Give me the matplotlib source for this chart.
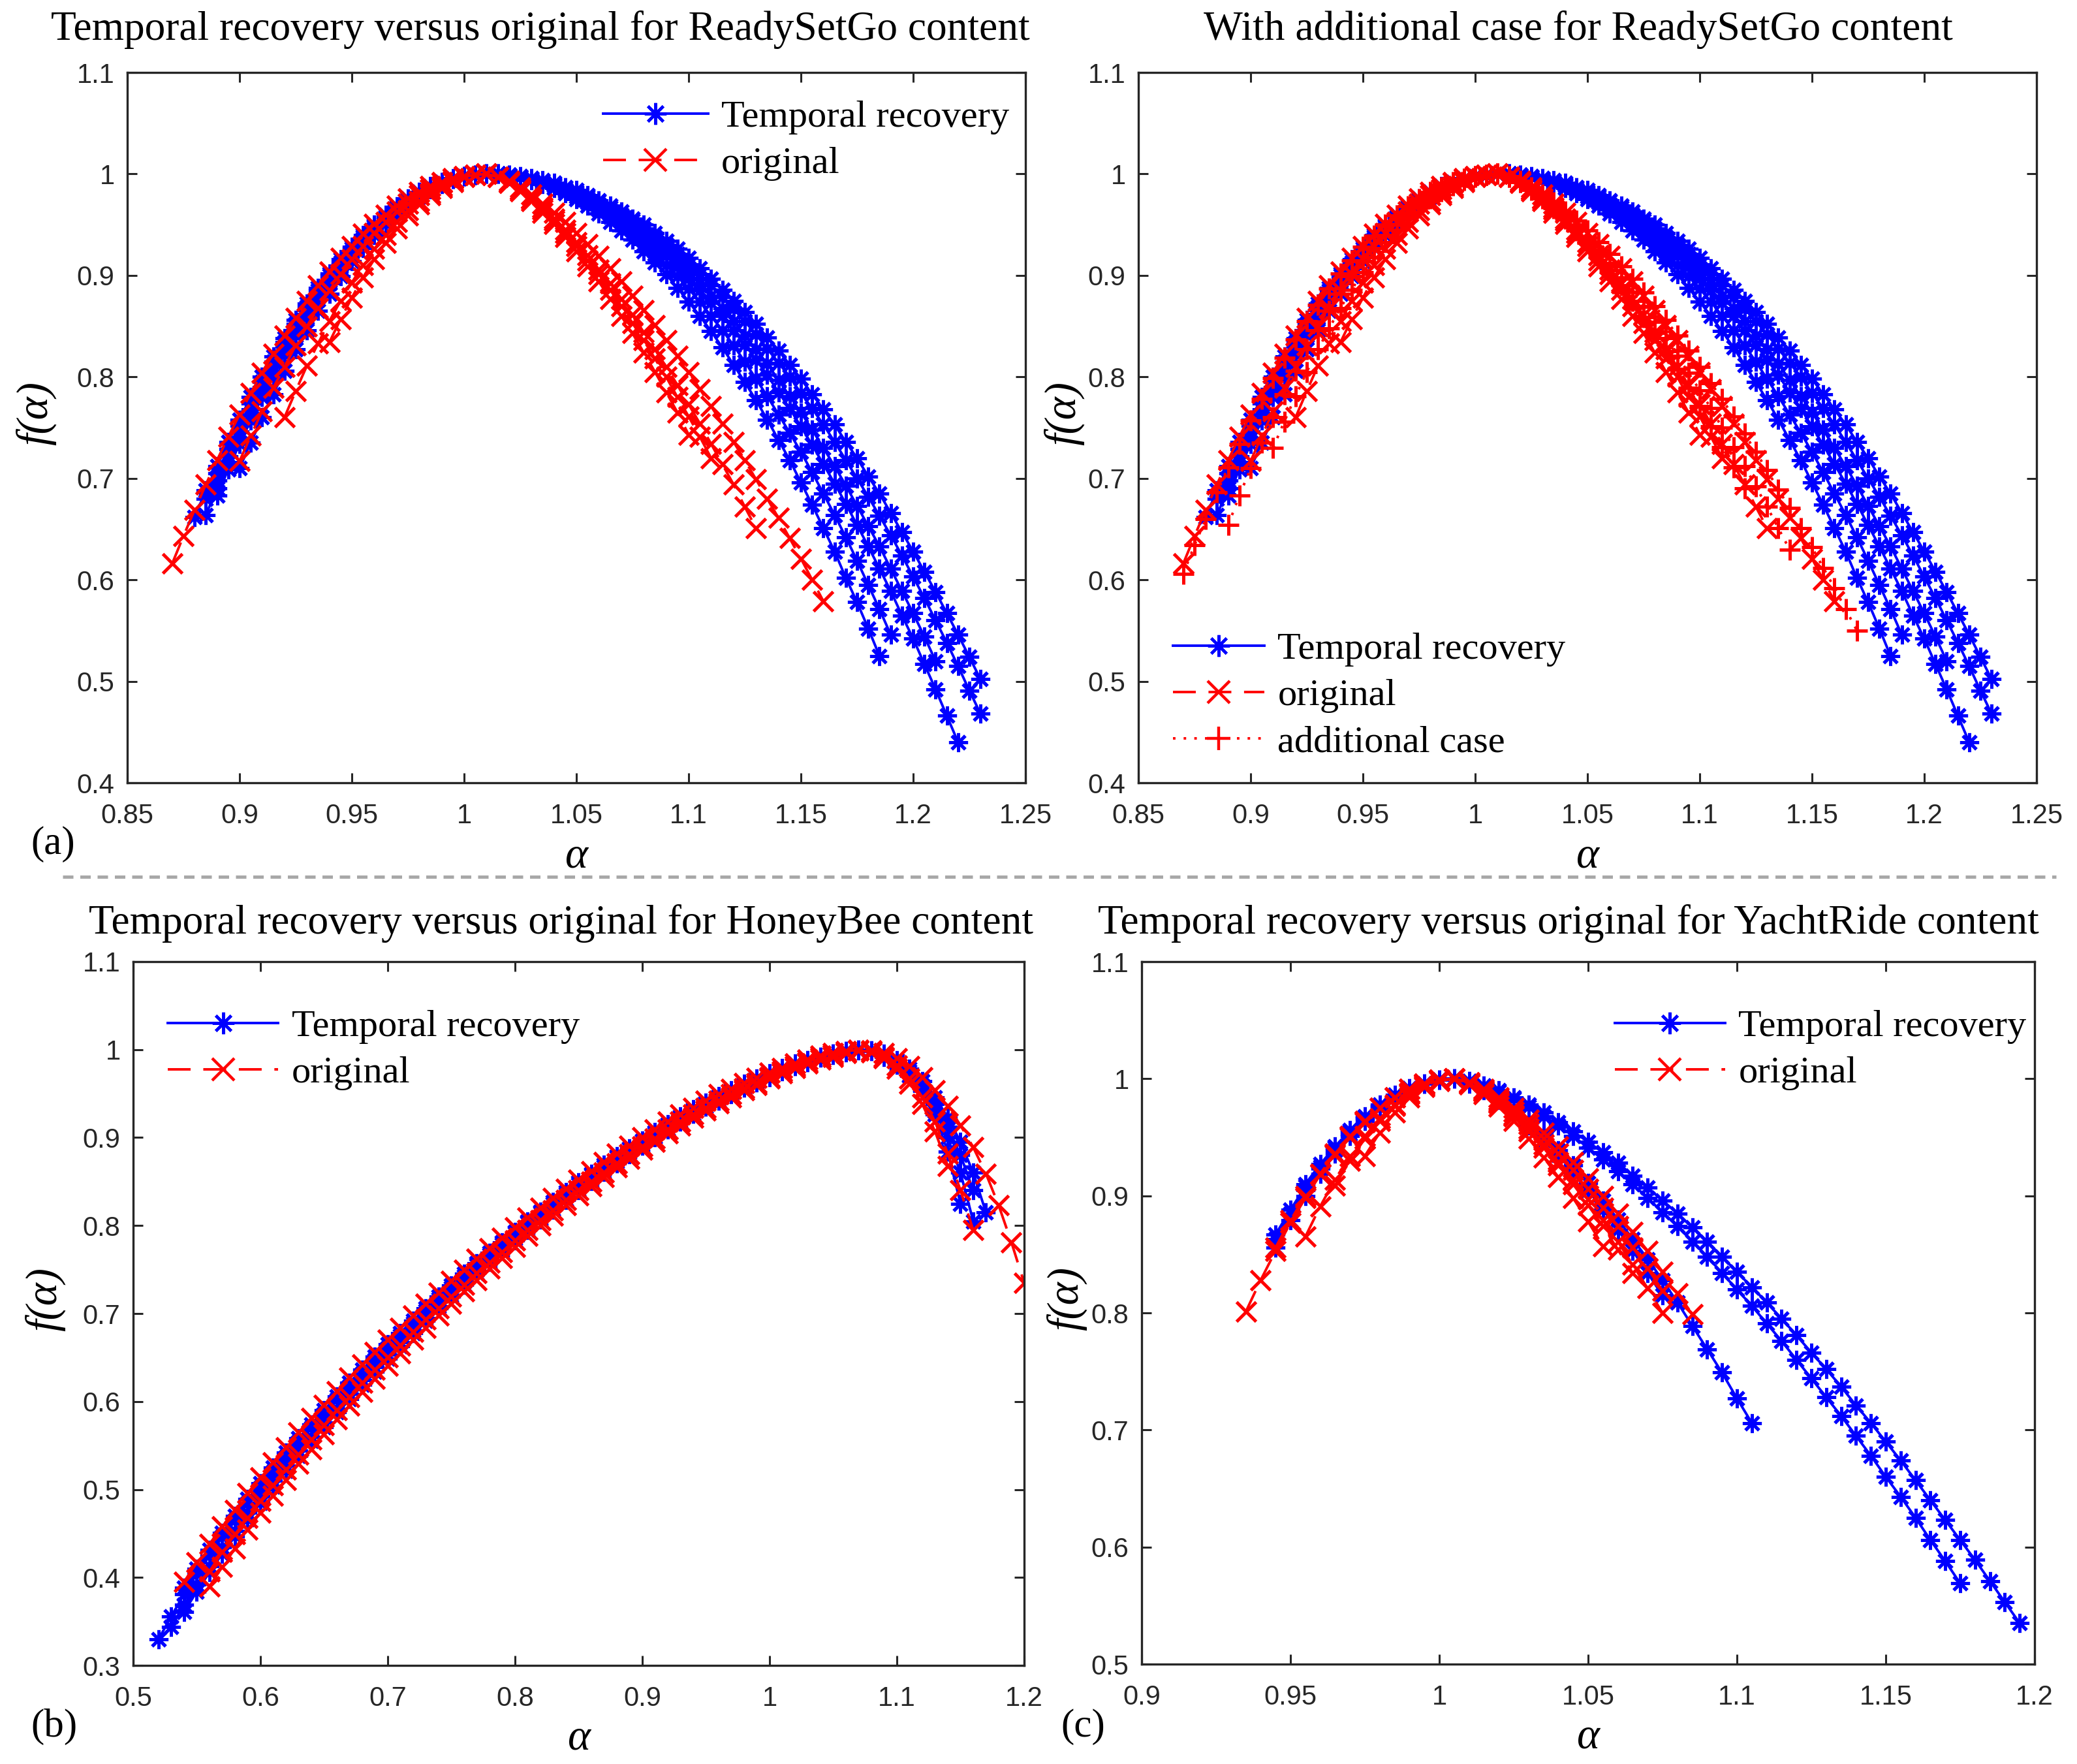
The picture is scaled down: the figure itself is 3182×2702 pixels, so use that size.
import matplotlib
matplotlib.use("Agg")
import matplotlib.pyplot as plt
import numpy as np
from matplotlib.lines import Line2D
from matplotlib.ticker import FuncFormatter

# ---------------- data ----------------
# each curve: (first alpha, f(alpha) values on the panel's alpha grid from that point on)

# (a) and top right panel : ReadySetGo
alpha_rsg = [0.870, 0.875, 0.880, 0.885, 0.890, 0.895, 0.900, 0.905, 0.910, 0.915, 0.920, 0.925,
             0.930, 0.935, 0.940, 0.945, 0.950, 0.955, 0.960, 0.965, 0.970, 0.975, 0.980, 0.985,
             0.990, 0.995, 1.000, 1.005, 1.010, 1.015, 1.020, 1.025, 1.030, 1.035, 1.040, 1.045,
             1.050, 1.055, 1.060, 1.065, 1.070, 1.075, 1.080, 1.085, 1.090, 1.095, 1.100, 1.105,
             1.110, 1.115, 1.120, 1.125, 1.130, 1.135, 1.140, 1.145, 1.150, 1.155, 1.160, 1.165,
             1.170, 1.175, 1.180, 1.185, 1.190, 1.195, 1.200, 1.205, 1.210, 1.215, 1.220, 1.225,
             1.230]

rsg_temporal = [
    (0.880, [0.662, 0.688, 0.712, 0.736, 0.758, 0.780, 0.800, 0.820, 0.838, 0.856, 0.872, 0.888,
             0.902, 0.916, 0.928, 0.940, 0.950, 0.960, 0.968, 0.976, 0.982, 0.988, 0.992, 0.996,
             0.998, 0.999, 1.000, 1.000, 0.999, 0.998, 0.996, 0.994, 0.991, 0.987, 0.984, 0.979,
             0.974, 0.969, 0.963, 0.956, 0.950, 0.942, 0.934, 0.926, 0.917, 0.907, 0.897, 0.886,
             0.875, 0.864, 0.852, 0.839, 0.826, 0.812, 0.798, 0.783, 0.768, 0.753, 0.736, 0.720,
             0.702, 0.685, 0.666, 0.647, 0.628, 0.608, 0.588, 0.567, 0.546, 0.524, 0.502]),
    (0.890, [0.698, 0.722, 0.746, 0.768, 0.790, 0.810, 0.830, 0.848, 0.866, 0.882, 0.897, 0.911,
             0.924, 0.936, 0.948, 0.957, 0.966, 0.974, 0.981, 0.987, 0.992, 0.995, 0.998, 0.999,
             1.000, 1.000, 0.999, 0.998, 0.996, 0.993, 0.990, 0.987, 0.982, 0.978, 0.973, 0.967,
             0.960, 0.954, 0.946, 0.938, 0.930, 0.921, 0.911, 0.901, 0.890, 0.879, 0.867, 0.855,
             0.842, 0.828, 0.814, 0.800, 0.784, 0.769, 0.753, 0.736, 0.718, 0.700, 0.682, 0.663,
             0.644, 0.624, 0.603, 0.582, 0.560, 0.538, 0.515, 0.491, 0.468]),
    (0.890, [0.683, 0.709, 0.734, 0.757, 0.780, 0.801, 0.822, 0.841, 0.859, 0.876, 0.892, 0.907,
             0.921, 0.933, 0.945, 0.955, 0.965, 0.973, 0.980, 0.986, 0.991, 0.995, 0.998, 0.999,
             1.000, 1.000, 0.999, 0.997, 0.995, 0.992, 0.989, 0.984, 0.980, 0.974, 0.968, 0.962,
             0.954, 0.946, 0.938, 0.929, 0.919, 0.908, 0.897, 0.885, 0.873, 0.860, 0.846, 0.832,
             0.817, 0.802, 0.785, 0.769, 0.751, 0.733, 0.714, 0.695, 0.675, 0.654, 0.633, 0.611,
             0.589, 0.565, 0.542, 0.517, 0.492, 0.466, 0.440]),
    (0.900, [0.710, 0.735, 0.760, 0.783, 0.806, 0.827, 0.846, 0.865, 0.882, 0.899, 0.914, 0.927,
             0.940, 0.951, 0.962, 0.971, 0.978, 0.985, 0.990, 0.995, 0.998, 0.999, 1.000, 1.000,
             0.999, 0.997, 0.994, 0.991, 0.987, 0.983, 0.978, 0.972, 0.965, 0.958, 0.950, 0.941,
             0.931, 0.921, 0.910, 0.899, 0.887, 0.874, 0.860, 0.846, 0.831, 0.815, 0.798, 0.781,
             0.763, 0.745, 0.726, 0.706, 0.685, 0.664, 0.642, 0.619, 0.595, 0.571, 0.546]),
    (0.885, [0.680, 0.705, 0.729, 0.752, 0.774, 0.795, 0.815, 0.834, 0.852, 0.869, 0.885, 0.900,
             0.913, 0.926, 0.938, 0.949, 0.958, 0.967, 0.975, 0.982, 0.987, 0.992, 0.995, 0.998,
             0.999, 1.000, 1.000, 0.998, 0.997, 0.994, 0.990, 0.986, 0.981, 0.975, 0.969, 0.961,
             0.953, 0.944, 0.935, 0.924, 0.913, 0.901, 0.888, 0.874, 0.860, 0.845, 0.829, 0.812,
             0.795, 0.777, 0.758, 0.738, 0.718, 0.696, 0.674, 0.651, 0.628, 0.602, 0.578, 0.552,
             0.525]),
    (0.885, [0.664, 0.690, 0.716, 0.740, 0.763, 0.785, 0.806, 0.826, 0.845, 0.862, 0.879, 0.895,
             0.909, 0.923, 0.935, 0.946, 0.956, 0.966, 0.974, 0.981, 0.987, 0.991, 0.995, 0.998,
             0.999, 1.000, 1.000, 0.999, 0.997, 0.995, 0.993, 0.989, 0.985, 0.981, 0.976, 0.970,
             0.964, 0.957, 0.949, 0.941, 0.933, 0.923, 0.913, 0.903, 0.892, 0.880, 0.868, 0.855,
             0.841, 0.827, 0.813, 0.797, 0.781, 0.765, 0.748, 0.730, 0.712, 0.693, 0.673, 0.653,
             0.633, 0.611, 0.589, 0.567, 0.544, 0.520]),
]

rsg_original = [
    (0.870, [0.616, 0.643, 0.669, 0.694, 0.718, 0.741, 0.763, 0.784, 0.804, 0.823, 0.841, 0.858,
             0.875, 0.890, 0.904, 0.917, 0.929, 0.941, 0.951, 0.960, 0.969, 0.976, 0.982, 0.988,
             0.992, 0.996, 0.998, 0.999, 1.000, 0.997, 0.993, 0.987, 0.980, 0.971, 0.962, 0.953,
             0.942, 0.931, 0.919, 0.907, 0.894, 0.880, 0.866, 0.851, 0.836, 0.821, 0.805, 0.788,
             0.771, 0.754, 0.736, 0.718, 0.699, 0.680, 0.661, 0.641, 0.621, 0.600, 0.579]),
    (0.900, [0.717, 0.742, 0.766, 0.789, 0.810, 0.831, 0.850, 0.868, 0.885, 0.901, 0.916, 0.929,
             0.942, 0.953, 0.963, 0.971, 0.979, 0.985, 0.991, 0.995, 0.998, 0.999, 1.000, 0.997,
             0.992, 0.985, 0.976, 0.967, 0.956, 0.945, 0.933, 0.920, 0.906, 0.892, 0.877, 0.861,
             0.844, 0.827, 0.810, 0.792, 0.773, 0.754, 0.734, 0.714, 0.694, 0.672, 0.651]),
    (0.920, [0.760, 0.786, 0.811, 0.833, 0.855, 0.875, 0.893, 0.910, 0.926, 0.940, 0.953, 0.964,
             0.973, 0.981, 0.988, 0.993, 0.997, 0.999, 1.000, 0.997, 0.991, 0.984, 0.975, 0.965,
             0.954, 0.942, 0.929, 0.915, 0.901, 0.886, 0.870, 0.853, 0.836, 0.818, 0.800, 0.780,
             0.761, 0.741, 0.720]),
    (0.940, [0.834, 0.857, 0.878, 0.898, 0.916, 0.932, 0.946, 0.959, 0.970, 0.979, 0.986, 0.992,
             0.997, 0.999, 1.000, 0.997, 0.991, 0.983, 0.973, 0.962, 0.951, 0.938, 0.924, 0.909,
             0.894, 0.877, 0.860, 0.843, 0.824, 0.805, 0.785, 0.765, 0.743]),
]

rsg_additional = [
    (0.870, [0.606, 0.634, 0.660, 0.686, 0.711, 0.734, 0.757, 0.778, 0.799, 0.819, 0.837, 0.855,
             0.871, 0.887, 0.902, 0.915, 0.928, 0.939, 0.950, 0.959, 0.968, 0.975, 0.982, 0.987,
             0.992, 0.995, 0.998, 0.999, 1.000, 0.998, 0.993, 0.987, 0.980, 0.972, 0.963, 0.954,
             0.944, 0.933, 0.921, 0.909, 0.897, 0.883, 0.870, 0.856, 0.841, 0.826, 0.810, 0.794,
             0.778, 0.761, 0.744, 0.726, 0.708, 0.689, 0.671, 0.651, 0.632, 0.612, 0.592, 0.571,
             0.550]),
    (0.890, [0.654, 0.683, 0.710, 0.735, 0.760, 0.783, 0.806, 0.827, 0.846, 0.865, 0.882, 0.899,
             0.914, 0.927, 0.940, 0.951, 0.962, 0.971, 0.978, 0.985, 0.990, 0.995, 0.998, 0.999,
             1.000, 0.997, 0.992, 0.985, 0.978, 0.969, 0.959, 0.948, 0.937, 0.925, 0.912, 0.898,
             0.884, 0.869, 0.854, 0.838, 0.821, 0.804, 0.787, 0.769, 0.750, 0.731, 0.712, 0.692,
             0.672, 0.651, 0.630]),
    (0.910, [0.730, 0.756, 0.781, 0.805, 0.827, 0.848, 0.868, 0.886, 0.903, 0.918, 0.933, 0.945,
             0.957, 0.967, 0.976, 0.983, 0.989, 0.994, 0.997, 0.999, 1.000, 0.997, 0.992, 0.984,
             0.976, 0.966, 0.956, 0.944, 0.932, 0.919, 0.905, 0.890, 0.875, 0.859, 0.843, 0.825,
             0.808, 0.789, 0.771, 0.751, 0.731, 0.711, 0.690]),
]

# (b) HoneyBee
alpha_hb = [0.52, 0.53, 0.54, 0.55, 0.56, 0.57, 0.58, 0.59, 0.60, 0.61, 0.62, 0.63, 0.64, 0.65,
            0.66, 0.67, 0.68, 0.69, 0.70, 0.71, 0.72, 0.73, 0.74, 0.75, 0.76, 0.77, 0.78, 0.79,
            0.80, 0.81, 0.82, 0.83, 0.84, 0.85, 0.86, 0.87, 0.88, 0.89, 0.90, 0.91, 0.92, 0.93,
            0.94, 0.95, 0.96, 0.97, 0.98, 0.99, 1.00, 1.01, 1.02, 1.03, 1.04, 1.05, 1.06, 1.07,
            1.08, 1.09, 1.10, 1.11, 1.12, 1.13, 1.14, 1.15, 1.16, 1.17, 1.18, 1.19, 1.20]

hb_temporal = [
    (0.52, [0.330, 0.356, 0.381, 0.404, 0.425, 0.446, 0.465, 0.484, 0.502, 0.520, 0.537, 0.554,
            0.570, 0.586, 0.602, 0.617, 0.632, 0.647, 0.661, 0.675, 0.689, 0.703, 0.716, 0.729,
            0.742, 0.755, 0.767, 0.779, 0.791, 0.803, 0.814, 0.825, 0.836, 0.847, 0.857, 0.867,
            0.877, 0.887, 0.896, 0.905, 0.914, 0.923, 0.931, 0.939, 0.946, 0.953, 0.960, 0.966,
            0.972, 0.978, 0.983, 0.988, 0.992, 0.995, 0.998, 1.000, 0.999, 0.995, 0.988, 0.978,
            0.964, 0.946, 0.923, 0.895, 0.860, 0.815]),
    (0.54, [0.361, 0.384, 0.406, 0.427, 0.447, 0.466, 0.485, 0.503, 0.521, 0.538, 0.555, 0.571,
            0.588, 0.603, 0.619, 0.634, 0.649, 0.663, 0.678, 0.692, 0.706, 0.719, 0.733, 0.746,
            0.759, 0.771, 0.783, 0.795, 0.807, 0.818, 0.829, 0.840, 0.851, 0.861, 0.871, 0.881,
            0.891, 0.900, 0.909, 0.918, 0.927, 0.935, 0.942, 0.949, 0.957, 0.963, 0.969, 0.975,
            0.981, 0.986, 0.991, 0.994, 0.997, 0.999, 0.998, 0.993, 0.984, 0.971, 0.954, 0.926,
            0.884, 0.825]),
    (0.54, [0.388, 0.410, 0.431, 0.451, 0.470, 0.489, 0.507, 0.525, 0.542, 0.558, 0.574, 0.590,
            0.606, 0.621, 0.636, 0.651, 0.665, 0.678, 0.692, 0.706, 0.719, 0.732, 0.745, 0.757,
            0.769, 0.781, 0.793, 0.805, 0.816, 0.827, 0.838, 0.849, 0.859, 0.869, 0.879, 0.888,
            0.897, 0.906, 0.915, 0.924, 0.932, 0.940, 0.947, 0.954, 0.961, 0.967, 0.973, 0.979,
            0.984, 0.988, 0.992, 0.995, 0.998, 1.000, 0.999, 0.994, 0.986, 0.975, 0.959, 0.938,
            0.912, 0.880, 0.840]),
    (0.53, [0.344, 0.369, 0.392, 0.413, 0.434, 0.453, 0.474, 0.492, 0.510, 0.527, 0.544, 0.560,
            0.576, 0.592, 0.609, 0.624, 0.639, 0.653, 0.667, 0.681, 0.695, 0.708, 0.721, 0.736,
            0.749, 0.761, 0.773, 0.785, 0.797, 0.808, 0.819, 0.830, 0.841, 0.853, 0.863, 0.873,
            0.883, 0.892, 0.901, 0.910, 0.919, 0.927, 0.935, 0.944, 0.951, 0.958, 0.964, 0.970,
            0.976, 0.981, 0.986, 0.992, 0.995, 0.998, 1.000, 0.998, 0.992, 0.983, 0.970, 0.953,
            0.930, 0.900, 0.860, 0.805]),
]

hb_original = [
    (0.54, [0.395, 0.417, 0.438, 0.458, 0.477, 0.496, 0.514, 0.531, 0.548, 0.565, 0.581, 0.596,
            0.612, 0.627, 0.642, 0.656, 0.670, 0.684, 0.698, 0.711, 0.724, 0.737, 0.750, 0.762,
            0.774, 0.786, 0.798, 0.809, 0.820, 0.831, 0.842, 0.852, 0.862, 0.872, 0.882, 0.891,
            0.900, 0.909, 0.918, 0.926, 0.934, 0.942, 0.949, 0.955, 0.962, 0.968, 0.974, 0.979,
            0.984, 0.989, 0.993, 0.996, 0.998, 1.000, 0.999, 0.996, 0.990, 0.981, 0.969, 0.954,
            0.936, 0.914, 0.889, 0.859, 0.823, 0.781, 0.735]),
    (0.56, [0.390, 0.412, 0.433, 0.454, 0.474, 0.493, 0.511, 0.529, 0.546, 0.563, 0.580, 0.595,
            0.611, 0.626, 0.641, 0.655, 0.670, 0.684, 0.698, 0.711, 0.725, 0.738, 0.751, 0.763,
            0.776, 0.788, 0.800, 0.811, 0.823, 0.834, 0.845, 0.855, 0.866, 0.876, 0.886, 0.895,
            0.905, 0.914, 0.923, 0.931, 0.939, 0.946, 0.954, 0.960, 0.967, 0.973, 0.979, 0.984,
            0.989, 0.992, 0.996, 0.999, 0.998, 0.992, 0.982, 0.967, 0.946, 0.918, 0.882, 0.840,
            0.795]),
    (0.56, [0.407, 0.429, 0.449, 0.468, 0.487, 0.505, 0.523, 0.540, 0.557, 0.573, 0.590, 0.605,
            0.621, 0.636, 0.650, 0.664, 0.679, 0.693, 0.706, 0.719, 0.733, 0.746, 0.758, 0.770,
            0.783, 0.795, 0.806, 0.817, 0.829, 0.840, 0.850, 0.860, 0.871, 0.881, 0.890, 0.899,
            0.909, 0.918, 0.926, 0.934, 0.942, 0.949, 0.956, 0.962, 0.969, 0.975, 0.981, 0.986,
            0.991, 0.994, 0.997, 0.999, 0.997, 0.990, 0.978, 0.961, 0.938, 0.907, 0.868]),
]

# (c) YachtRide
alpha_yr = [0.935, 0.940, 0.945, 0.950, 0.955, 0.960, 0.965, 0.970, 0.975, 0.980, 0.985, 0.990,
            0.995, 1.000, 1.005, 1.010, 1.015, 1.020, 1.025, 1.030, 1.035, 1.040, 1.045, 1.050,
            1.055, 1.060, 1.065, 1.070, 1.075, 1.080, 1.085, 1.090, 1.095, 1.100, 1.105, 1.110,
            1.115, 1.120, 1.125, 1.130, 1.135, 1.140, 1.145, 1.150, 1.155, 1.160, 1.165, 1.170,
            1.175, 1.180, 1.185, 1.190, 1.195]

yr_temporal = [
    (0.945, [0.867, 0.888, 0.908, 0.925, 0.941, 0.955, 0.967, 0.977, 0.985, 0.992, 0.996, 0.999,
             1.000, 0.998, 0.994, 0.990, 0.984, 0.978, 0.971, 0.963, 0.955, 0.946, 0.937, 0.928,
             0.917, 0.907, 0.896, 0.885, 0.873, 0.861, 0.848, 0.835, 0.822, 0.809, 0.795, 0.781,
             0.766, 0.752, 0.737, 0.721, 0.706, 0.690, 0.674, 0.657, 0.640, 0.623, 0.606, 0.589,
             0.571, 0.553, 0.535]),
    (0.945, [0.863, 0.885, 0.905, 0.923, 0.939, 0.953, 0.966, 0.976, 0.985, 0.991, 0.996, 0.999,
             1.000, 0.998, 0.994, 0.989, 0.983, 0.976, 0.968, 0.960, 0.951, 0.941, 0.931, 0.921,
             0.910, 0.898, 0.886, 0.874, 0.861, 0.848, 0.834, 0.820, 0.806, 0.791, 0.776, 0.760,
             0.744, 0.728, 0.712, 0.695, 0.678, 0.660, 0.643, 0.625, 0.606, 0.588, 0.569]),
    (0.945, [0.856, 0.879, 0.900, 0.919, 0.936, 0.951, 0.964, 0.975, 0.984, 0.991, 0.996, 0.999,
             1.000, 0.997, 0.991, 0.983, 0.974, 0.963, 0.952, 0.939, 0.926, 0.911, 0.896, 0.880,
             0.863, 0.846, 0.828, 0.809, 0.789, 0.769, 0.749, 0.727, 0.706]),
    (0.955, [0.910, 0.927, 0.942, 0.956, 0.968, 0.978, 0.986, 0.992, 0.996, 0.999, 1.000, 0.996,
             0.990, 0.982, 0.972, 0.960, 0.948, 0.935, 0.920, 0.905, 0.888, 0.871, 0.853, 0.834,
             0.815]),
]

yr_original = [
    (0.935, [0.801, 0.828, 0.853, 0.877, 0.898, 0.918, 0.935, 0.950, 0.963, 0.975, 0.984, 0.991,
             0.996, 0.999, 1.000, 0.997, 0.991, 0.984, 0.975, 0.965, 0.954, 0.942, 0.929, 0.915,
             0.900, 0.885, 0.869, 0.853, 0.835, 0.817, 0.799]),
    (0.955, [0.865, 0.891, 0.914, 0.934, 0.951, 0.966, 0.978, 0.988, 0.995, 0.999, 1.000, 0.996,
             0.989, 0.980, 0.969, 0.957, 0.944, 0.929, 0.914, 0.897, 0.879, 0.861, 0.841, 0.821,
             0.800]),
    (0.965, [0.909, 0.930, 0.949, 0.964, 0.977, 0.987, 0.994, 0.999, 1.000, 0.996, 0.989, 0.979,
             0.968, 0.955, 0.941, 0.926, 0.910, 0.892, 0.874, 0.854, 0.834]),
    (0.975, [0.934, 0.954, 0.971, 0.984, 0.993, 0.998, 1.000, 0.995, 0.987, 0.976, 0.964, 0.949,
             0.933, 0.916, 0.898, 0.878, 0.857]),
    (0.945, [0.856, 0.879, 0.900, 0.919, 0.936, 0.951, 0.964, 0.975, 0.984, 0.991, 0.996, 0.999,
             1.000, 0.997, 0.990, 0.982, 0.972, 0.961, 0.949, 0.936, 0.922, 0.906, 0.890, 0.874,
             0.856, 0.838, 0.819]),
]

label_temporal = "Temporal recovery"
label_original = "original"
label_additional = "additional case"

# ---------------- style ----------------
SERIF = "Liberation Serif"
SANS = "Liberation Sans"
AX_COLOR = "#262626"

style_temporal = dict(color="#0000ff", linestyle="-", marker=(8, 2, 0))
style_original = dict(color="#ff0000", linestyle=(0, (9, 5)), marker="x")
style_additional = dict(color="#ff0000", linestyle=(0, (1, 3.2)), marker="+")


def curve_xy(grid, start, vals):
    grid = np.asarray(grid)
    i = int(np.argmin(np.abs(grid - start)))
    n = min(len(grid) - i, len(vals))
    return grid[i:i + n], np.asarray(vals[:n])


def draw_group(ax, grid, curves, style, ms):
    for start, vals in curves:
        x, y = curve_xy(grid, start, vals)
        ax.plot(x, y, linewidth=1.4, markeredgewidth=1.8, markersize=ms, **style)


def legend_handle(style, ms):
    return Line2D([], [], linewidth=1.4, markeredgewidth=1.6, markersize=ms, **style)


def setup_axes(ax, xlim, xticks, ylim, yticks, title, title_x, title_pad, ylab_x):
    ax.set_xlim(*xlim)
    ax.set_ylim(*ylim)
    ax.set_xticks(xticks)
    ax.set_yticks(yticks)
    fmt = FuncFormatter(lambda v, p: "{:g}".format(round(v, 3)))
    ax.xaxis.set_major_formatter(fmt)
    ax.yaxis.set_major_formatter(fmt)
    ax.tick_params(direction="in", top=True, right=True, length=5.5, width=1.1,
                   colors=AX_COLOR, labelsize=15)
    ax.tick_params(axis="x", pad=11)
    ax.tick_params(axis="y", pad=7)
    for lab in ax.get_xticklabels() + ax.get_yticklabels():
        lab.set_fontfamily(SANS)
    for sp in ax.spines.values():
        sp.set_linewidth(1.2)
        sp.set_color(AX_COLOR)
    ax.set_title(title, fontfamily=SERIF, fontsize=22.8, pad=title_pad, x=title_x)
    ax.text(0.5, -0.119, "α", transform=ax.transAxes, ha="center", va="baseline",
            fontfamily=SERIF, fontstyle="italic", fontsize=24)
    ax.text(ylab_x, 0.52, "f(α)", transform=ax.transAxes, ha="center", va="center",
            rotation=90, fontfamily=SERIF, fontstyle="italic", fontsize=24)


def add_legend(ax, handles, labels, loc, anchor, hlen):
    ax.legend(handles, labels, loc=loc, bbox_to_anchor=anchor, frameon=False,
              prop=dict(family=SERIF, size=21), handlelength=hlen, handletextpad=0.35,
              labelspacing=0.31, borderpad=0, borderaxespad=0, numpoints=1)


h_t = legend_handle(style_temporal, 12)
h_o = legend_handle(style_original, 12)
h_a = legend_handle(style_additional, 13)

fig = plt.figure(figsize=(15.91, 13.51), dpi=200)

ticks_rsg_x = [0.85, 0.9, 0.95, 1, 1.05, 1.1, 1.15, 1.2, 1.25]
ticks_rsg_y = [0.4, 0.5, 0.6, 0.7, 0.8, 0.9, 1, 1.1]

# (a)
ax_a = fig.add_axes([0.06128, 0.55625, 0.43243, 0.40266])
draw_group(ax_a, alpha_rsg, rsg_temporal, style_temporal, 10.5)
draw_group(ax_a, alpha_rsg, rsg_original, style_original, 10.5)
setup_axes(ax_a, (0.85, 1.25), ticks_rsg_x, (0.4, 1.1), ticks_rsg_y,
           "Temporal recovery versus original for ReadySetGo content", 0.460, 18, -0.1017)
add_legend(ax_a, [h_t, h_o], [label_temporal, label_original], "upper right", (0.982, 0.961), 2.75)

# top right
ax_tr = fig.add_axes([0.54808, 0.55625, 0.43243, 0.40266])
draw_group(ax_tr, alpha_rsg, rsg_temporal, style_temporal, 10.5)
draw_group(ax_tr, alpha_rsg, rsg_original, style_original, 10.5)
draw_group(ax_tr, alpha_rsg, rsg_additional, style_additional, 11.5)
setup_axes(ax_tr, (0.85, 1.25), ticks_rsg_x, (0.4, 1.1), ticks_rsg_y,
           "With additional case for ReadySetGo content", 0.490, 18, -0.083)
add_legend(ax_tr, [h_t, h_o, h_a], [label_temporal, label_original, label_additional],
           "upper left", (0.0385, 0.212), 2.4)

# (b)
ax_b = fig.add_axes([0.06411, 0.05588, 0.42897, 0.39897])
draw_group(ax_b, alpha_hb, hb_temporal, style_temporal, 10.5)
draw_group(ax_b, alpha_hb, hb_original, style_original, 10.5)
setup_axes(ax_b, (0.5, 1.2), [0.5, 0.6, 0.7, 0.8, 0.9, 1, 1.1, 1.2],
           (0.3, 1.1), [0.3, 0.4, 0.5, 0.6, 0.7, 0.8, 0.9, 1, 1.1],
           "Temporal recovery versus original for HoneyBee content", 0.480, 15.5, -0.099)
add_legend(ax_b, [h_t, h_o], [label_temporal, label_original], "upper left", (0.0388, 0.932), 2.9)

# (c)
ax_c = fig.add_axes([0.54965, 0.05662, 0.42992, 0.39822])
draw_group(ax_c, alpha_yr, yr_temporal, style_temporal, 10.5)
draw_group(ax_c, alpha_yr, yr_original, style_original, 10.5)
setup_axes(ax_c, (0.9, 1.2), [0.9, 0.95, 1, 1.05, 1.1, 1.15, 1.2],
           (0.5, 1.1), [0.5, 0.6, 0.7, 0.8, 0.9, 1, 1.1],
           "Temporal recovery versus original for YachtRide content", 0.478, 15.5, -0.084)
add_legend(ax_c, [h_t, h_o], [label_temporal, label_original], "upper right", (0.991, 0.932), 2.9)

# panel tags and separator
fig.text(0.0148, 0.5215, "(a)", fontfamily=SERIF, fontsize=22, va="center")
fig.text(0.0148, 0.0211, "(b)", fontfamily=SERIF, fontsize=22, va="center")
fig.text(0.5107, 0.0211, "(c)", fontfamily=SERIF, fontsize=22, va="center")
fig.add_artist(Line2D([96 / 3182, 3150 / 3182], [1 - 1343 / 2702] * 2, transform=fig.transFigure,
                      color="#a8a8a8", linewidth=1.8, linestyle=(0, (3.2, 2.1))))

fig.savefig("out.png", dpi=200)
